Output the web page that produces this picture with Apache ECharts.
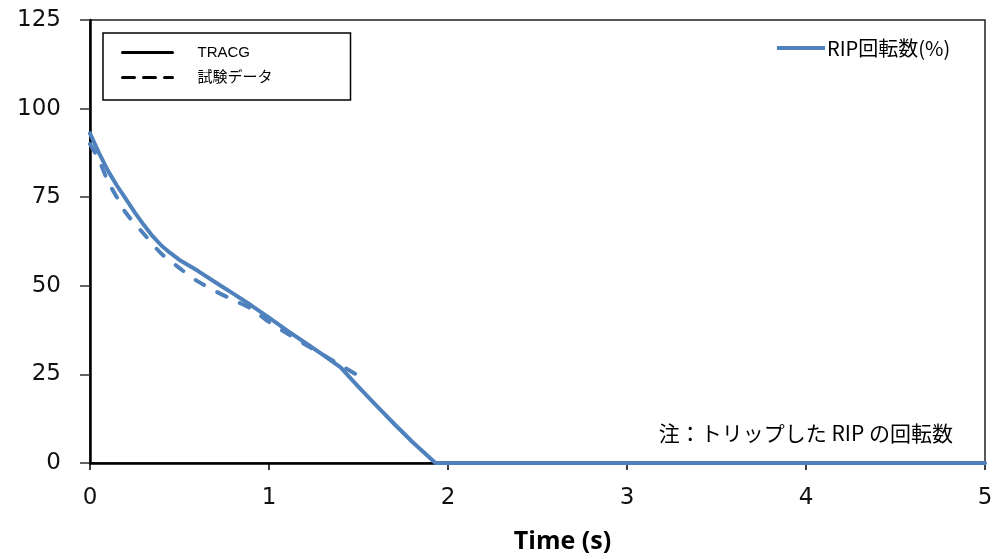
<!DOCTYPE html>
<html><head><meta charset="utf-8">
<script src="https://cdn.jsdelivr.net/npm/echarts@6/dist/echarts.min.js"></script>
<style>html,body{margin:0;padding:0;background:#fff}#c{width:997px;height:559px}</style>
</head><body><div id="c"></div>
<script>
// TRACG (solid)
const tracgTime   = [0, 0.05, 0.1, 0.15, 0.2, 0.25, 0.3, 0.35, 0.4, 0.45, 0.5, 0.6, 0.7, 0.8, 0.9, 1.0, 1.1, 1.2, 1.3, 1.4, 1.5, 1.6, 1.7, 1.8, 1.93, 2.0, 3.0, 4.0, 5.0];
const tracgValues = [93, 87.5, 82.5, 78.3, 74.5, 70.7, 67.2, 64.0, 61.3, 59.2, 57.3, 54.3, 51, 47.8, 44.5, 41, 37.4, 34, 30.6, 27, 21.5, 16.2, 11, 6, 0, 0, 0, 0, 0];
// 試験データ (dashed)
const testTime   = [0, 0.05, 0.1, 0.15, 0.2, 0.3, 0.4, 0.5, 0.6, 0.7, 0.8, 0.9, 1.0, 1.1, 1.2, 1.3, 1.4, 1.5];
const testValues = [90, 85.5, 79.5, 75, 70.6, 64.7, 59, 55, 51.3, 48.5, 46, 43.5, 39.8, 36.6, 33.5, 30.6, 27.6, 24.6];
const xTicks = [0, 1, 2, 3, 4, 5];
const yTicks = [0, 25, 50, 75, 100, 125];

const blue = '#4F81BD';
const hiddenSymbol = {opacity: 0, color: 'transparent', borderWidth: 0};
const chart = echarts.init(document.getElementById('c'), null, {renderer: 'canvas'});
chart.setOption({
  animation: false,
  title: {
    text: '注：トリップした RIP の回転数',
    right: 44, top: 423, padding: 0,
    textStyle: {fontFamily: 'Noto Sans CJK JP', fontSize: 21, fontWeight: 'normal', color: '#000'}
  },
  grid: {left: 90, right: 12, top: 20, bottom: 96, outerBoundsMode: 'none', containLabel: false,
         show: true, borderColor: '#222', borderWidth: 1.5, backgroundColor: 'transparent'},
  legend: [
    {
      orient: 'vertical', left: 103, top: 33,
      padding: [12, 78, 15, 18],
      borderColor: '#000', borderWidth: 1.5,
      itemWidth: 50, itemHeight: 14, itemGap: 10,
      selectedMode: false,
      itemStyle: hiddenSymbol,
      textStyle: {fontFamily: 'Liberation Sans, Noto Sans CJK JP', fontSize: 15, color: '#000', padding: [0, 0, 0, 20]},
      data: [
        {name: 'TRACG', itemStyle: hiddenSymbol, lineStyle: {color: '#000', width: 3, type: 'solid'}},
        {name: '試験データ', itemStyle: hiddenSymbol, lineStyle: {color: '#000', width: 3, type: [12, 9]}}
      ]
    },
    {
      left: 775, top: 38, padding: 0,
      itemWidth: 48, itemHeight: 14,
      selectedMode: false,
      itemStyle: hiddenSymbol,
      textStyle: {fontFamily: 'Noto Sans CJK JP', fontSize: 20, color: '#000', padding: [0, 0, 0, -3]},
      data: [{name: 'RIP回転数(%)', itemStyle: hiddenSymbol, lineStyle: {color: blue, width: 4, type: 'solid'}}]
    }
  ],
  xAxis: {
    type: 'value', min: xTicks[0], max: xTicks[xTicks.length - 1], interval: 1,
    axisLine: {onZero: false, lineStyle: {color: '#000', width: 2.5}},
    axisTick: {show: true, length: 7, lineStyle: {color: '#000', width: 1.5}},
    splitLine: {show: false},
    axisLabel: {fontFamily: 'DejaVu Sans', fontSize: 23, color: '#111', margin: 24},
    name: 'Time (s)', nameLocation: 'middle', nameGap: 66,
    nameTextStyle: {fontFamily: 'Open Sans', fontWeight: 'bold', fontSize: 25, color: '#000', padding: [0, 0, 0, 50]}
  },
  yAxis: {
    type: 'value', min: yTicks[0], max: yTicks[yTicks.length - 1], interval: 25,
    axisLine: {show: true, lineStyle: {color: '#000', width: 2.5}},
    axisTick: {show: true, length: 10, lineStyle: {color: '#333', width: 1.5}},
    splitLine: {show: false},
    axisLabel: {fontFamily: 'DejaVu Sans', fontSize: 23, color: '#111', margin: 29}
  },
  series: [
    {
      name: 'TRACG', type: 'line', symbol: 'none', z: 5,
      lineStyle: {color: blue, width: 4, cap: 'round', join: 'round'},
      itemStyle: {color: blue},
      data: tracgTime.map((t, i) => [t, tracgValues[i]])
    },
    {
      name: '試験データ', type: 'line', symbol: 'none', z: 4,
      smooth: 0.3,
      lineStyle: {color: blue, width: 4, type: [10, 15], cap: 'round', join: 'round'},
      itemStyle: {color: blue},
      data: testTime.map((t, i) => [t, testValues[i]])
    },
    {
      name: 'RIP回転数(%)', type: 'line', symbol: 'none',
      lineStyle: {color: blue, width: 4},
      itemStyle: {color: blue},
      data: []
    }
  ]
});
</script></body></html>
